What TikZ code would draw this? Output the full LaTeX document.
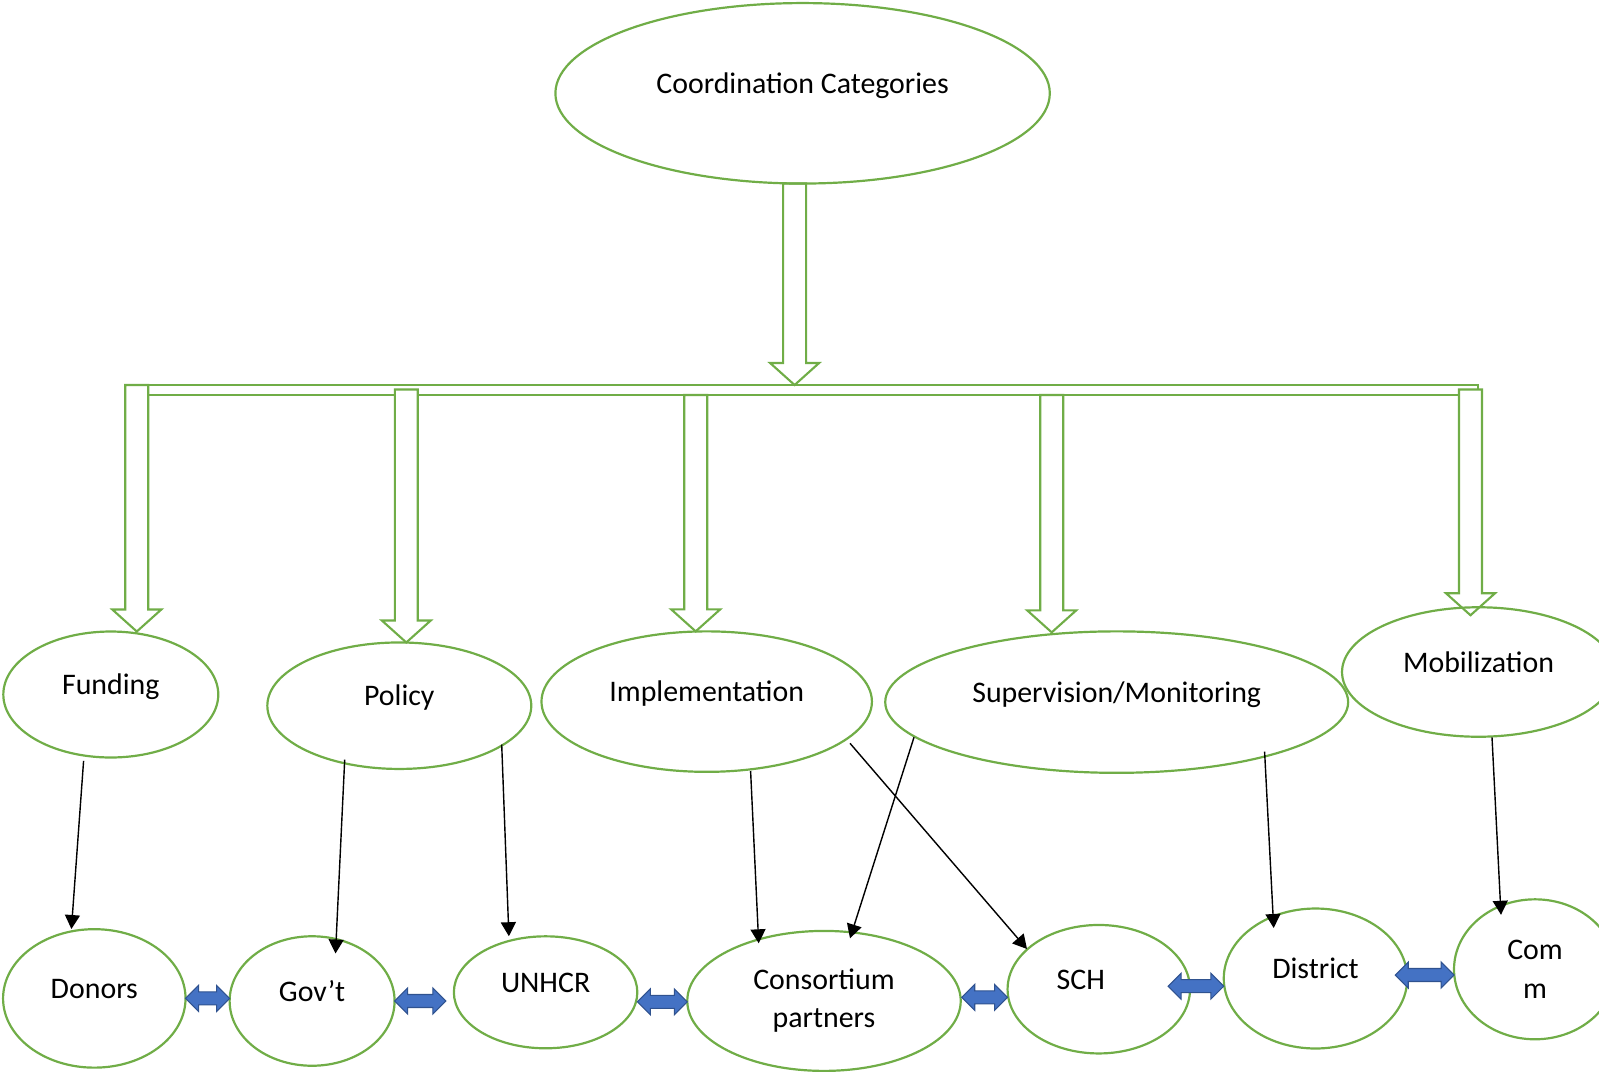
\documentclass[tikz,border=0pt]{standalone}
\usepackage{fontspec}
\setmainfont{Carlito}
\usetikzlibrary{shapes.geometric,arrows.meta,calc,backgrounds}

\definecolor{cgreen}{HTML}{70AD47}
\definecolor{cblue}{HTML}{4472C4}
\definecolor{cblueline}{HTML}{2F528F}

\tikzset{
  ell/.style={ellipse, draw=cgreen, line width=1.25pt, inner sep=0pt, outer sep=0pt},
  oneline/.style={text height=0.5em, text depth=0.5em},
  hollow/.style={draw=cgreen, fill=white, line width=1.2pt, line join=miter},
  conn/.style={-{Triangle[length=0.28cm,width=0.3cm]}, line width=0.8pt},
  twoway/.style={draw=cblueline, fill=cblue, line width=0.6pt},
}

% hollow down arrow: #1 top of the shaft, #2 tip
\newcommand{\hollowdown}[2]{%
  \draw[hollow] let \p1=(#1), \p2=(#2) in
    ([xshift=-0.23cm]\x2,\y1) -- ([xshift=-0.23cm,yshift=0.44cm]\p2) -- ++(-13,0)
    -- (\p2) -- ([xshift=0.49cm,yshift=0.44cm]\p2) -- ++(-13,0)
    -- ([xshift=0.23cm]\x2,\y1) -- cycle;}

% blue two-headed arrow: #1 left tip, #2 right tip
\newcommand{\twoway}[2]{%
  \draw[twoway] let \p1=(#1), \p2=(#2) in
    (\p1) -- ++(13,-13) -- ++(0,6.5) -- ([xshift=-0.26cm,yshift=0.13cm]\x2,\y1)
    -- ++(0,-6.5) -- (\x2,\y1) -- ++(-13,13) -- ++(0,-6.5)
    -- ([xshift=0.26cm,yshift=-0.13cm]\p1) -- ++(0,6.5) -- cycle;}

\begin{document}
\begin{tikzpicture}[x=0.02cm, y=-0.02cm, font=\fontsize{17}{21.8}\selectfont]
 \useasboundingbox (0,0) rectangle (1599,1072);
 \clip (0,0) rectangle (1599,1072);

 % top
 \node[ell, oneline, minimum width=9.89cm, minimum height=3.61cm] (cat) at (802.6,93.3) {Coordination Categories};

 % categories
 \node[ell, oneline, minimum width=4.30cm, minimum height=2.52cm] (fund) at (110.8,694.5) {Funding};
 \node[ell, oneline, minimum width=5.28cm, minimum height=2.53cm] (pol) at (399.3,705.7) {Policy};
 \node[ell, oneline, minimum width=6.61cm, minimum height=2.81cm] (impl) at (706.7,701.6) {Implementation};
 \node[ell, oneline, minimum width=9.26cm, minimum height=2.83cm] (sup) at (1116.7,702.1) {Supervision/Monitoring};
 \node[ell, oneline, minimum width=5.46cm, minimum height=2.59cm] (mob) at (1478.5,672) {Mobilization};

 % actors
 \node[ell, oneline, minimum width=3.65cm, minimum height=2.77cm] (don) at (94.3,998.4) {Donors};
 \node[ell, oneline, minimum width=3.30cm, minimum height=2.59cm] (gov) at (312.1,1001) {Gov’t};
 \node[ell, oneline, minimum width=3.67cm, minimum height=2.24cm] (unh) at (545.6,992.3) {UNHCR};
 \node[ell, align=center, minimum width=5.47cm, minimum height=2.80cm] (cons) at (824,1000.9) {\raisebox{-0.08cm}{Consortium}\\\raisebox{-0.08cm}{partners}};
 \node[ell, oneline, minimum width=3.65cm, minimum height=2.57cm] (sch) at (1098.8,989.2) {SCH\hspace*{0.72cm}};
 \node[ell, oneline, minimum width=3.67cm, minimum height=2.80cm] (dist) at (1315.5,978.5) {District};
 \node[ell, align=center, minimum width=3.24cm, minimum height=2.80cm] (comm) at (1535,969.3) {Com\\m};

 % hollow arrows
 \begin{scope}[on background layer]
  \coordinate (barT) at (126,385);
  \coordinate (barM) at (0,389.5);
  \coordinate (barB) at (1478,395);
  \draw[hollow] (barT) rectangle (barB);
  \hollowdown{barT}{$(fund.north)+(26,0)$}
  \hollowdown{barM}{$(pol.north)+(7,0)$}
  \hollowdown{barB}{$(impl.north)+(-11,0)$}
  \hollowdown{barB}{$(sup.north)+(-65,1)$}
  \hollowdown{barM}{$(mob.north)+(-8,8)$}
  \hollowdown{cat.south}{$(cat.south |- barT)+(-8,0)$}
 \end{scope}

 % links
 \draw[conn] ($(fund.center)+(-27.2,66.3)$) -- ($(don.center)+(-22.9,-69.4)$);
 \draw[conn] ($(pol.center)+(-54.6,54)$) -- ($(gov.center)+(23.4,-47.5)$);
 \draw[conn] ($(pol.center)+(102.4,38.8)$) -- ($(unh.center)+(-36.7,-56.1)$);
 \draw[conn] ($(impl.center)+(43.9,69.4)$) -- ($(cons.center)+(-65.3,-57.6)$);
 \draw[conn] ($(impl.center)+(143.3,41.7)$) -- ($(sch.center)+(-71.8,-40.2)$);
 \draw[conn] ($(sup.center)+(-202.7,35.2)$) -- ($(cons.center)+(26,-62.6)$);
 \draw[conn] ($(sup.center)+(147.9,49.5)$) -- ($(dist.center)+(-41.8,-50.5)$);
 \draw[conn] ($(mob.center)+(13.5,65.3)$) -- ($(comm.center)+(-34,-54.5)$);

 % two-way links
 \twoway{don.east}{gov.west}
 \twoway{gov.east}{$(unh.west)+(-8,0)$}
 \twoway{$(unh.east)+(0,9.5)$}{cons.west}
 \twoway{$(cons.east)+(1,-3.5)$}{sch.west}
 \twoway{$(sch.east)+(-22,-3)$}{dist.west}
 \twoway{$(dist.east)+(-12,-3.5)$}{comm.west}
\end{tikzpicture}
\end{document}
